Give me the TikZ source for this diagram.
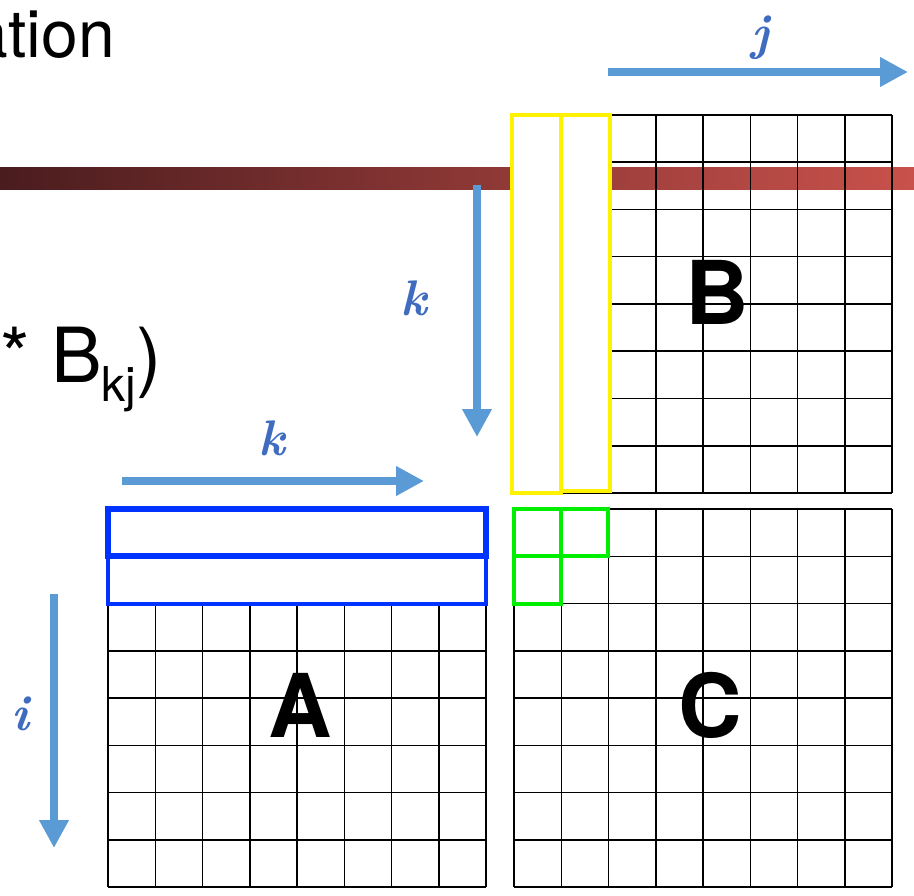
\documentclass[tikz,border=0pt]{standalone}
\usepackage{fontspec}
\setsansfont{TeX Gyre Heros}
\usetikzlibrary{arrows.meta}

\definecolor{arrblue}{HTML}{5B9BD5}
\definecolor{lblblue}{HTML}{3F6CBF}
\definecolor{bardark}{HTML}{4A1C1E}
\definecolor{barlight}{HTML}{C9514B}
\definecolor{rowblue}{HTML}{0033FF}
\definecolor{cellgreen}{HTML}{00EE00}

\tikzset{
  gridline/.style={line width=1.5pt,black},
  idxarrow/.style={line width=8pt,arrblue,-{Triangle[width=28pt,length=28pt]}},
  idxlabel/.style={lblblue,font=\rmfamily\itshape\bfseries\fontsize{50}{50}\selectfont},
  bigletter/.style={font=\sffamily\bfseries\fontsize{88}{88}\selectfont},
  colbox/.style={line width=4pt,yellow,fill=white},
  rowbox/.style={line width=4pt,rowblue,fill=white},
  cellbox/.style={line width=4pt,cellgreen}
}

\newcommand{\cw}{47.25}

\begin{document}
\begin{tikzpicture}[x=1pt,y=-1pt]

\useasboundingbox (0,0) rectangle (914,896);

% bar behind B
\shade[left color=bardark,right color=barlight] (0,168) rectangle (914,190);

\node[anchor=base east,inner sep=0,font=\sffamily\fontsize{66}{66}\selectfont] (title) at (115,58) {ation};

\node[anchor=base east,inner sep=0,font=\sffamily\fontsize{76}{76}\selectfont] (sumterm) at (162,382)
{* B\raisebox{-0.25em}{\fontsize{48}{48}\selectfont kj})};


% matrix B
\begin{scope}[shift={(514,115)}]
\foreach \n in {0,...,8} {
  \draw[gridline] (\n*\cw,0) -- (\n*\cw,378);
  \draw[gridline] (0,\n*\cw) -- (378,\n*\cw);
}
\node[bigletter] (matB) at (203,177) {B};
\end{scope}

\draw[colbox] (512,115) rectangle (561,493);
\draw[colbox] (561,115) rectangle (610,491);


% matrix A
\begin{scope}[shift={(108,509)}]
\foreach \n in {0,...,8} {
  \draw[gridline] (\n*\cw,0) -- (\n*\cw,378);
  \draw[gridline] (0,\n*\cw) -- (378,\n*\cw);
}
\node[bigletter] (matA) at (192,196) {A};
\end{scope}

\draw[rowbox] (108,509) rectangle (486,604);
\draw[rowbox,line width=6pt] (108,509) rectangle (486,556);


% matrix C
\begin{scope}[shift={(514,509)}]
\foreach \n in {0,...,8} {
  \draw[gridline] (\n*\cw,0) -- (\n*\cw,378);
  \draw[gridline] (0,\n*\cw) -- (378,\n*\cw);
}
\node[bigletter] (matC) at (196,196) {C};
\end{scope}

\draw[cellbox] (514,509) rectangle (561,556);
\draw[cellbox] (561,509) rectangle (608,556);
\draw[cellbox] (514,556) rectangle (561,604);


% index arrows
\coordinate (js) at (608,72);
\coordinate (je) at (908,72);
\coordinate (kvs) at (477,185);
\coordinate (kve) at (477,437);
\coordinate (khs) at (122,481);
\coordinate (khe) at (424,481);
\coordinate (is) at (54,594);
\coordinate (ie) at (54,848);

\draw[idxarrow] (js)--(je);
\draw[idxarrow] (kvs)--(kve);
\draw[idxarrow] (khs)--(khe);
\draw[idxarrow] (is)--(ie);

\node[idxlabel] (jlbl) at (760,38) {j};
\node[idxlabel] (kvlbl) at (414,298) {k};
\node[idxlabel] (khlbl) at (272,438) {k};
\node[idxlabel] (ilbl) at (20,714) {i};

\end{tikzpicture}
\end{document}
